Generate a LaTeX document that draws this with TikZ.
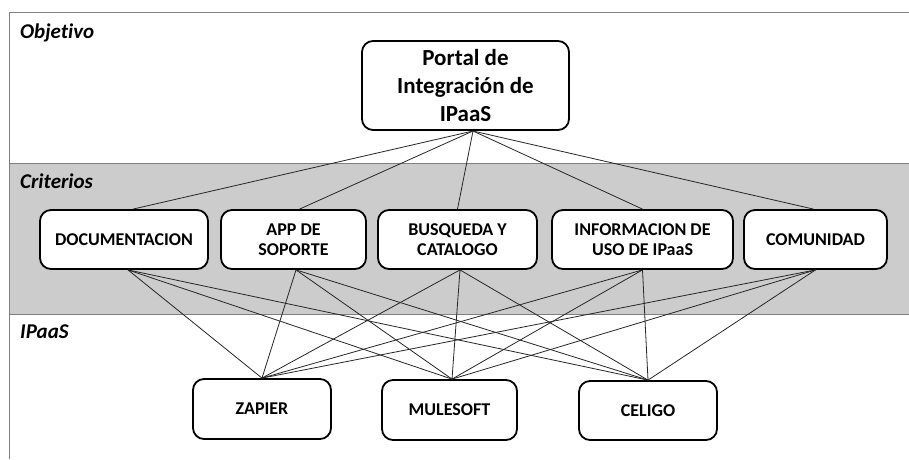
\documentclass[tikz,border=0pt]{standalone}
\usepackage{fontspec}
\setmainfont{Carlito}[Ligatures=NoCommon]
\begin{document}
\begin{tikzpicture}[x=1pt,y=-1pt,
  box/.style={draw=black, line width=1.8pt, rounded corners=11pt, fill=white,
    font=\bfseries\fontsize{18}{20.5}\selectfont, align=center, inner sep=0pt},
  bigbox/.style={box, font=\bfseries\fontsize{23}{28.3}\selectfont},
  bandlabel/.style={font=\bfseries\itshape\fontsize{21}{24}\selectfont, anchor=base west, inner sep=0pt},
  frameline/.style={draw=black!50, line width=0.8pt},
  link/.style={line width=0.8pt, draw=black!85}]
\useasboundingbox (0,0) rectangle (909,459);
% bands
\fill[black!20] (9,163) rectangle (909,314);
\draw[frameline] (909,12) -- (9,12) -- (9,459);
\draw[frameline] (9,163) -- (909,163);
\draw[frameline] (9,314) -- (909,314);
% band labels
\node[bandlabel] (lobj) at (20,38) {Objetivo};
\node[bandlabel] (lcri) at (20,188) {Criterios};
\node[bandlabel] (lipa) at (20,338) {IPaaS};
% goal
\node[bigbox, minimum width=207pt, minimum height=89pt] (portal) at (465.5,85.5)
  {Portal de\\Integración de\\IPaaS};
\coordinate (pbot) at (473,131);
% criteria
\node[box, minimum width=168pt, minimum height=59pt] (doc)  at (124,239.5) {DOCUMENTACION};
\node[box, minimum width=145pt, minimum height=59pt] (app)  at (293.5,239.5) {APP DE\\SOPORTE};
\node[box, minimum width=159pt, minimum height=59pt] (busq) at (457.5,239.5) {BUSQUEDA Y\\CATALOGO};
\node[box, minimum width=181pt, minimum height=59pt] (info) at (642.5,239.5) {INFORMACION DE\\USO DE IPaaS};
\node[box, minimum width=143pt, minimum height=59pt] (com)  at (815.5,239.5) {COMUNIDAD};
% alternatives
\node[box, minimum width=138pt, minimum height=60pt] (zap)  at (262,409) {ZAPIER};
\node[box, minimum width=135pt, minimum height=60pt] (mule) at (449.5,410) {MULESOFT};
\node[box, minimum width=138pt, minimum height=59pt] (celi) at (648,410.5) {CELIGO};
% goal to criteria
\draw[link] (pbot) -- ([xshift=9pt]doc.north);
\draw[link] (pbot) -- ([xshift=6pt]app.north);
\draw[link] (pbot) -- (busq.north);
\draw[link] (pbot) -- (info.north);
\draw[link] (pbot) -- ([xshift=-2pt]com.north);
% criteria to alternatives
\foreach \c/\s in {doc/4, app/2.5, busq/2.5, info/0, com/0} {
  \draw[link] ([xshift=\s pt]\c.south) -- (zap.north);
  \draw[link] ([xshift=\s pt]\c.south) -- ([xshift=2.5pt]mule.north);
  \draw[link] ([xshift=\s pt]\c.south) -- (celi.north);
}
\end{tikzpicture}
\end{document}
